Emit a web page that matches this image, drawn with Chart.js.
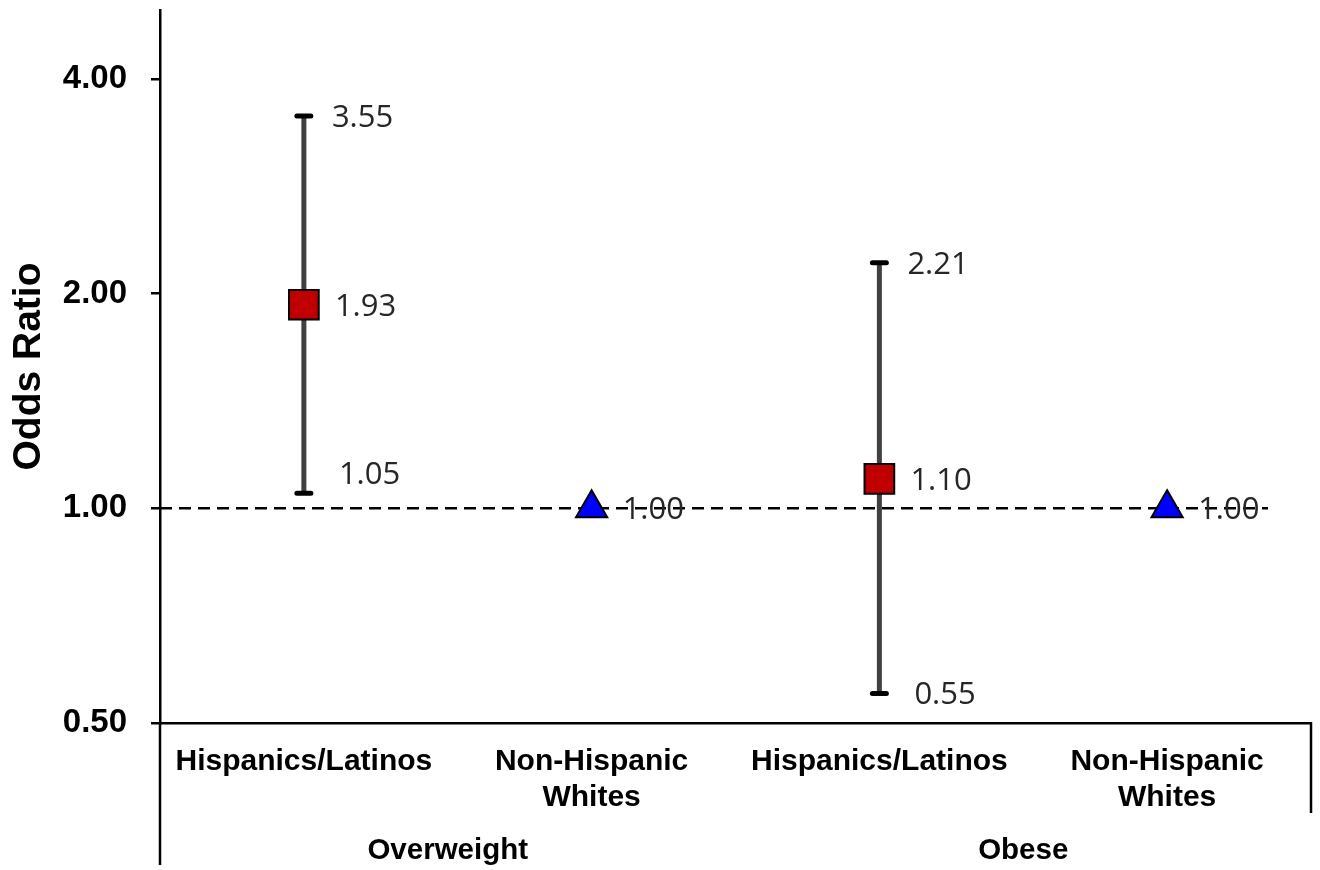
<!DOCTYPE html>
<html>
<head>
<meta charset="utf-8">
<title>Odds Ratio</title>
<script src="https://cdn.jsdelivr.net/npm/chart.js@4.4.1/dist/chart.umd.min.js"></script>
<style>
  html, body { margin: 0; padding: 0; background: #fff; }
  canvas { display: block; }
</style>
</head>
<body>
<canvas id="oddsChart" width="1320" height="870"></canvas>
<script>
// Categorias del eje x (primer nivel) y grupos (segundo nivel).
const categories = [["Hispanics/Latinos"], ["Non-Hispanic", "Whites"], ["Hispanics/Latinos"], ["Non-Hispanic", "Whites"]];
const groups = ["Overweight", "Obese"];

// Odds ratio e intervalos de confianza.
const hispanicOR = [1.93, null, 1.10, null];
const whiteOR = [null, 1.00, null, 1.00];
const ciLower = [1.05, null, 0.55, null];
const ciUpper = [3.55, null, 2.21, null];

// Eje y (logaritmico).
const yTicks = [0.5, 1, 2, 4];
const yMin = 0.5;
const yMax = 5;
const refValue = 1;

const AXIS_FONT = "'Liberation Sans', Arial, sans-serif";
const LABEL_FONT = "'Open Sans', 'Noto Sans', sans-serif";

// Linea de referencia en 1.00 y barras de error, debajo de los puntos.
const errorBarsPlugin = {
  id: "errorBars",
  beforeDatasetsDraw(chart) {
    const {ctx, chartArea, scales: {x, y}} = chart;
    ctx.save();

    const yRef = y.getPixelForValue(refValue);
    ctx.strokeStyle = "#000";
    ctx.lineWidth = 2.5;
    ctx.setLineDash([12, 7]);
    ctx.beginPath();
    ctx.moveTo(chartArea.left, yRef);
    ctx.lineTo(chartArea.right - 43, yRef);
    ctx.stroke();
    ctx.setLineDash([]);

    ciLower.forEach((lo, i) => {
      const hi = ciUpper[i];
      if (lo == null || hi == null) return;
      const px = x.getPixelForValue(i);
      const yLo = y.getPixelForValue(lo);
      const yHi = y.getPixelForValue(hi);

      ctx.strokeStyle = "#404040";
      ctx.lineWidth = 5;
      ctx.lineCap = "butt";
      ctx.beginPath();
      ctx.moveTo(px, yLo);
      ctx.lineTo(px, yHi);
      ctx.stroke();

      ctx.strokeStyle = "#000";
      ctx.lineCap = "round";
      ctx.beginPath();
      ctx.moveTo(px - 7, yLo);
      ctx.lineTo(px + 7, yLo);
      ctx.moveTo(px - 7, yHi);
      ctx.lineTo(px + 7, yHi);
      ctx.stroke();
    });
    ctx.restore();
  }
};

// Etiquetas de valores junto a los puntos y los extremos del intervalo.
const valueLabelsPlugin = {
  id: "valueLabels",
  afterDatasetsDraw(chart) {
    const {ctx, scales: {x, y}} = chart;
    const yRef = y.getPixelForValue(refValue);
    ctx.save();
    ctx.font = "31px " + LABEL_FONT;
    ctx.fillStyle = "#262626";
    ctx.textAlign = "left";
    ctx.textBaseline = "middle";

    categories.forEach((c, i) => {
      const px = x.getPixelForValue(i);
      const or = hispanicOR[i] != null ? hispanicOR[i] : whiteOR[i];
      if (or != null) ctx.fillText(or.toFixed(2), px + 31, y.getPixelForValue(or) + 2);

      if (ciUpper[i] != null) ctx.fillText(ciUpper[i].toFixed(2), px + 28, y.getPixelForValue(ciUpper[i]) + 2);
      if (ciLower[i] != null) {
        let py = y.getPixelForValue(ciLower[i]);
        // Si queda pegada a la linea de referencia, se sube.
        if (ciLower[i] > refValue && py > yRef - 35) py = yRef - 35;
        ctx.fillText(ciLower[i].toFixed(2), px + 35, py + 2);
      }
    });
    ctx.restore();
  }
};

// Titulo del eje y, grupos del eje x y lineas de separacion.
const axisExtrasPlugin = {
  id: "axisExtras",
  afterDraw(chart) {
    const {ctx, chartArea, scales: {x}} = chart;
    ctx.save();

    ctx.strokeStyle = "#000";
    ctx.lineWidth = 2.5;
    ctx.beginPath();
    ctx.moveTo(chartArea.left, chartArea.bottom);
    ctx.lineTo(chartArea.left, 865);
    ctx.moveTo(chartArea.right, chartArea.bottom - 1);
    ctx.lineTo(chartArea.right, 813);
    ctx.stroke();

    ctx.fillStyle = "#000";
    ctx.font = "bold 29.5px " + AXIS_FONT;
    ctx.textAlign = "center";
    ctx.textBaseline = "alphabetic";
    groups.forEach((g, i) => {
      const cx = (x.getPixelForValue(2 * i) + x.getPixelForValue(2 * i + 1)) / 2;
      ctx.fillText(g, cx, 859);
    });

    ctx.translate(29, (chartArea.top + chartArea.bottom) / 2);
    ctx.rotate(-Math.PI / 2);
    ctx.font = "bold 39px " + AXIS_FONT;
    ctx.textBaseline = "middle";
    ctx.fillText("Odds Ratio", 0, 0);
    ctx.restore();
  }
};

new Chart(document.getElementById("oddsChart"), {
  type: "line",
  data: {
    labels: categories,
    datasets: [{
      label: "Hispanics/Latinos",
      data: hispanicOR,
      showLine: false,
      pointStyle: "rect",
      pointRadius: 21,
      pointBackgroundColor: "#C00000",
      pointBorderColor: "#000",
      pointBorderWidth: 2
    }, {
      label: "Non-Hispanic Whites",
      data: whiteOR,
      showLine: false,
      pointStyle: "triangle",
      pointRadius: 18,
      pointBackgroundColor: "#0000FF",
      pointBorderColor: "#000",
      pointBorderWidth: 2
    }]
  },
  options: {
    responsive: false,
    animation: false,
    events: [],
    layout: {autoPadding: false, padding: {top: 10, right: 9, left: 0, bottom: 0}},
    plugins: {legend: {display: false}, tooltip: {enabled: false}},
    scales: {
      x: {
        type: "category",
        offset: true,
        grid: {display: false, drawTicks: false},
        border: {color: "#000", width: 2.5},
        ticks: {
          color: "#000", padding: 21, maxRotation: 0, autoSkip: false,
          font: {family: AXIS_FONT, size: 30, weight: "bold", lineHeight: 1.2}
        },
        afterFit(scale) {
          scale.height = 147;
          scale.paddingLeft = 0;
          scale.paddingRight = 0;
        }
      },
      y: {
        type: "logarithmic",
        min: yMin,
        max: yMax,
        grid: {drawOnChartArea: false, color: "#000", lineWidth: 2.5, tickLength: 9},
        border: {color: "#000", width: 2.5},
        ticks: {
          color: "#000", padding: 24, autoSkip: false,
          font: {family: AXIS_FONT, size: 33, weight: "bold"},
          callback: v => Number(v).toFixed(2)
        },
        afterBuildTicks(scale) {
          scale.ticks = yTicks.map(v => ({value: v}));
        },
        afterFit(scale) {
          scale.width = 160;
          scale.paddingTop = 0;
          scale.paddingBottom = 0;
        }
      }
    }
  },
  plugins: [errorBarsPlugin, valueLabelsPlugin, axisExtrasPlugin]
});
</script>
</body>
</html>
